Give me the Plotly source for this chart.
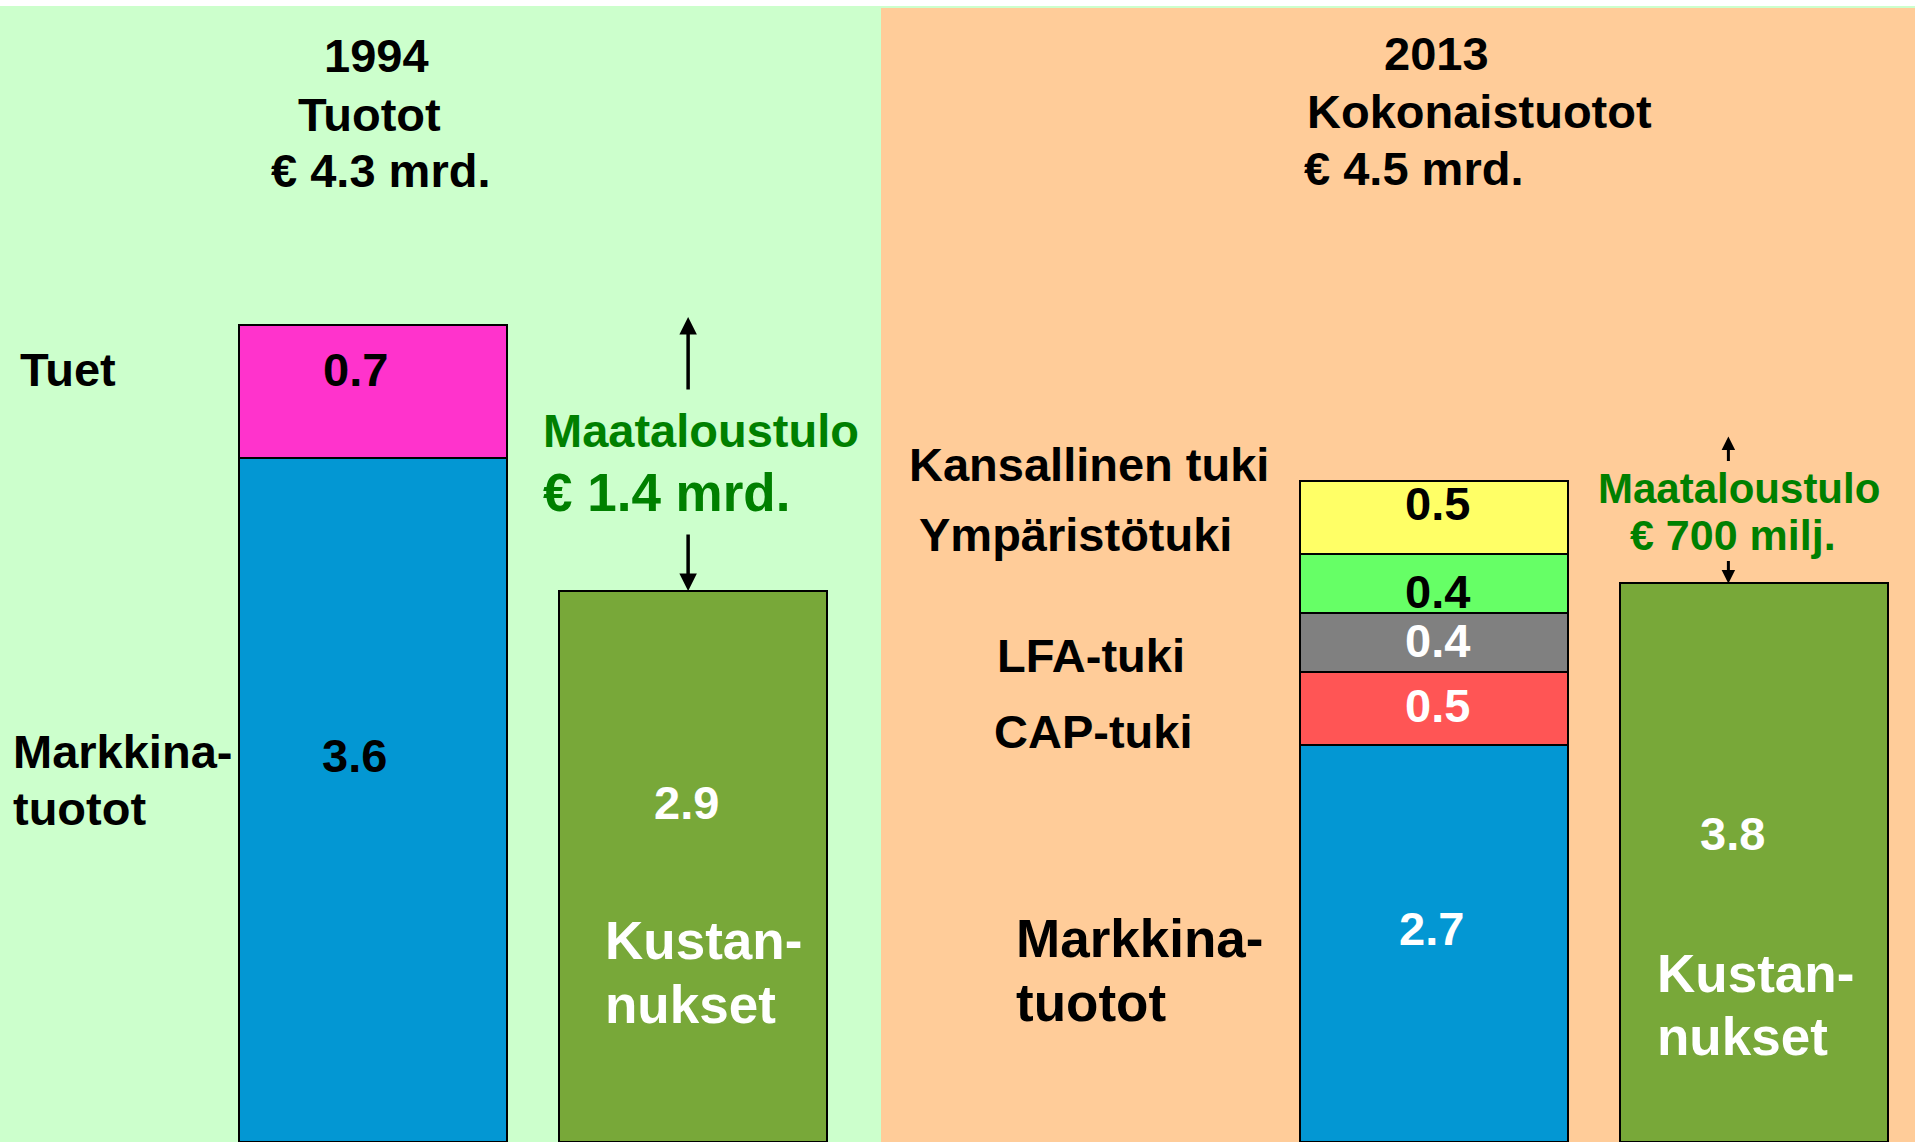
import plotly.graph_objects as go

# ---------------- data ----------------
cats_1994 = ["Tuotot 1994", "Kustannukset 1994"]
cats_2013 = ["Kokonaistuotot 2013", "Kustannukset 2013"]

seg_names_1994 = ["Markkinatuotot", "Tuet"]
seg_values_1994 = [3.6, 0.7]

seg_names_2013 = ["Markkinatuotot", "CAP-tuki", "LFA-tuki", "Ympäristötuki", "Kansallinen tuki"]
seg_values_2013 = [2.7, 0.5, 0.4, 0.4, 0.5]

costs = [2.9, 3.8]           # Kustannukset 1994, 2013
totals = [4.3, 4.5]          # Tuotot 1994, Kokonaistuotot 2013
income_labels = ["€ 1.4 mrd.", "€ 700 milj."]
years = ["1994", "2013"]
title_words = ["Tuotot", "Kokonaistuotot"]

# ---------------- styles ----------------
W, H = 1915, 1142
FONT = "Liberation Sans, Arial, sans-serif"
col_1994 = ["#0397D3", "#FF33CC"]
col_2013 = ["#0397D3", "#FF5555", "#808080", "#66FF66", "#FFFF66"]
col_cost = "#78A839"
txt_green = "#008000"
bg_green = "#CCFFCC"
bg_peach = "#FFCC99"
split_px = 880
bar_w = 0.8375

def px(x, y):
    return x / W, 1 - y / H

fig = go.Figure()

# 1994 stacked bar
for name, v, c in zip(seg_names_1994, seg_values_1994, col_1994):
    fig.add_trace(go.Bar(x=[cats_1994[0]], y=[v], name=name, marker=dict(color=c, line=dict(color="black", width=2)),
                         width=bar_w, xaxis="x", yaxis="y"))
fig.add_trace(go.Bar(x=[cats_1994[1]], y=[costs[0]], name="Kustannukset",
                     marker=dict(color=col_cost, line=dict(color="black", width=2)),
                     width=bar_w, xaxis="x", yaxis="y"))
# 2013 stacked bar
for name, v, c in zip(seg_names_2013, seg_values_2013, col_2013):
    fig.add_trace(go.Bar(x=[cats_2013[0]], y=[v], name=name, marker=dict(color=c, line=dict(color="black", width=2)),
                         width=bar_w, xaxis="x2", yaxis="y2"))
fig.add_trace(go.Bar(x=[cats_2013[1]], y=[costs[1]], name="Kustannukset",
                     marker=dict(color=col_cost, line=dict(color="black", width=2)),
                     width=bar_w, xaxis="x2", yaxis="y2"))

ax_common = dict(showgrid=False, zeroline=False, showticklabels=False, showline=False, ticks="", fixedrange=True)
fig.update_layout(
    width=W, height=H,
    margin=dict(l=0, r=0, t=0, b=0),
    paper_bgcolor="white", plot_bgcolor="rgba(0,0,0,0)",
    barmode="stack", showlegend=False,
    xaxis=dict(domain=[0, split_px / W], type="category", range=[-1.166, 1.584], **ax_common),
    yaxis=dict(domain=[0, 1], range=[0, H / 190.0], **ax_common),
    xaxis2=dict(domain=[split_px / W, 1], type="category", range=[-1.733, 1.502], anchor="y2", **ax_common),
    yaxis2=dict(domain=[0, 1], range=[0, H / 147.0], anchor="x2", **ax_common),
)

# backgrounds
fig.add_shape(type="rect", xref="paper", yref="paper", x0=0, x1=1, y0=0, y1=1 - 6 / H,
              fillcolor=bg_green, line_width=0, layer="below")
fig.add_shape(type="rect", xref="paper", yref="paper", x0=(split_px + 1) / W, x1=1, y0=0, y1=1 - 8 / H,
              fillcolor=bg_peach, line_width=0, layer="below")

def txt(text, x, y, size=47, color="black", anchor="left"):
    xp, yp = px(x, y)
    fig.add_annotation(text=text, x=xp, y=yp, xref="paper", yref="paper", showarrow=False,
                       xanchor=anchor, yanchor="middle",
                       font=dict(family=FONT, size=size, color=color, weight="bold"))

def fmt(v):
    return f"{v:.1f}"

# ---- 1994 panel ----
txt(years[0], 376, 56, anchor="center")
txt(title_words[0], 369, 114, anchor="center")
txt(f"€ {totals[0]} mrd.", 380, 171, anchor="center")
txt("Tuet", 18, 369)
txt("Markkina-", 11, 751)
txt("tuotot", 11, 808)
txt(fmt(seg_values_1994[1]), 355, 369, anchor="center")
txt(fmt(seg_values_1994[0]), 354, 755, anchor="center")
txt("Maataloustulo", 541, 430, color=txt_green)
txt(income_labels[0], 541, 492, size=53, color=txt_green)
txt(fmt(costs[0]), 686, 802, color="white", anchor="center")
txt("Kustan-", 603, 940, size=53, color="white")
txt("nukset", 603, 1004, size=53, color="white")

# ---- 2013 panel ----
txt(years[1], 1436, 54, anchor="center")
txt(title_words[1], 1479, 111, anchor="center")
txt(f"€ {totals[1]} mrd.", 1302, 169)
txt(seg_names_2013[4], 907, 464)
txt(seg_names_2013[3], 917, 535)
txt(seg_names_2013[2], 995, 656)
txt(seg_names_2013[1], 992, 731)
txt("Markkina-", 1014, 938, size=53)
txt("tuotot", 1014, 1003, size=53)
txt(fmt(seg_values_2013[4]), 1437, 503, anchor="center")
txt(fmt(seg_values_2013[3]), 1437, 591, anchor="center")
txt(fmt(seg_values_2013[2]), 1437, 640, color="white", anchor="center")
txt(fmt(seg_values_2013[1]), 1437, 705, color="white", anchor="center")
txt(fmt(seg_values_2013[0]), 1431, 928, color="white", anchor="center")
txt("Maataloustulo", 1739, 488, size=42, color=txt_green, anchor="center")
txt(income_labels[1], 1733, 535, size=43, color=txt_green, anchor="center")
txt(fmt(costs[1]), 1732, 833, color="white", anchor="center")
txt("Kustan-", 1655, 973, size=53, color="white")
txt("nukset", 1655, 1036, size=53, color="white")

# ---- income arrows (between total revenue and costs) ----
def arrow(xref, yref, xcat, yval, ay, xshift, yshift, width, size):
    fig.add_annotation(text="", x=xcat, y=yval, xref=xref, yref=yref, showarrow=True,
                       ax=0, ay=ay, xshift=xshift, yshift=yshift,
                       arrowhead=2, arrowsize=size, arrowwidth=width, arrowcolor="black", standoff=0)

arrow("x", "y", cats_1994[1], totals[0], 74, -5, 8, 3.5, 1.0)
arrow("x", "y", cats_1994[1], costs[0], -58, -5, 0, 3.5, 1.0)
arrow("x2", "y2", cats_2013[1], totals[1], 26, -26, 44, 3, 0.9)
arrow("x2", "y2", cats_2013[1], costs[1], -24, -26, 0, 3, 0.9)

fig.write_html("out.html", config={"displayModeBar": False},
               post_script="document.body.style.margin='0';document.body.style.overflow='hidden';")
